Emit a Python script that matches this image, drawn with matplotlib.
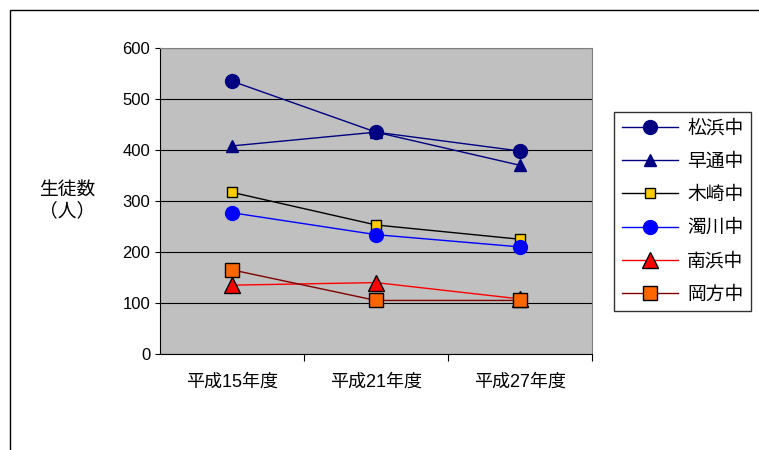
import matplotlib
matplotlib.use("Agg")
import matplotlib.pyplot as plt
import numpy as np

plt.rcParams['font.family'] = ['Liberation Sans', 'Noto Sans CJK JP', 'DejaVu Sans']

categories = ["平成15年度", "平成21年度", "平成27年度"]
schools = ["松浜中", "早通中", "木崎中", "濁川中", "南浜中", "岡方中"]
matsuhama = [535, 435, 398]
hayadori = [408, 435, 370]
kizaki = [317, 253, 225]
nigorikawa = [277, 234, 210]
minamihama = [135, 140, 108]
okagata = [165, 105, 105]
values = [matsuhama, hayadori, kizaki, nigorikawa, minamihama, okagata]

styles = [
    dict(color="#000080", marker="o", mfc="#000080", mec="#000080", ms=10),
    dict(color="#000080", marker="^", mfc="#000080", mec="#000080", ms=8),
    dict(color="#000000", marker="s", mfc="#FFCC00", mec="#000000", ms=7),
    dict(color="#0000FF", marker="o", mfc="#0000FF", mec="#0000FF", ms=10),
    dict(color="#FF0000", marker="^", mfc="#FF0000", mec="#000000", ms=11),
    dict(color="#800000", marker="s", mfc="#FF6600", mec="#000000", ms=10),
]

fig = plt.figure(figsize=(7.59, 4.5), dpi=100)
fig.patches.append(plt.Rectangle((10/759, -0.1), 1.2, 1 - 10/450 + 0.1, transform=fig.transFigure,
                                 fill=False, edgecolor="black", linewidth=1))
ax = fig.add_axes([160/759, 1 - 354/450, 432/759, 306/450])
ax.set_facecolor("#C0C0C0")
x = np.arange(len(categories))
for name, v, st in zip(schools, values, styles):
    ax.plot(x, v, label=name, linewidth=1, **st)

ax.set_xlim(-0.5, 2.5)
ax.set_ylim(0, 600)
ax.set_yticks(range(0, 601, 100))
ax.yaxis.grid(True, color="black", linewidth=0.8)
ax.set_axisbelow(True)
ax.set_xticks([0.5, 1.5, 2.5])
ax.set_xticklabels([])
ax.set_xticks(x, minor=True)
ax.set_xticklabels(categories, minor=True, fontsize=13)
ax.tick_params(axis="x", which="minor", length=0, pad=14)
ax.tick_params(axis="x", which="major", length=5, direction="out")
ax.tick_params(axis="y", labelsize=12)
for s in ["top", "right"]:
    ax.spines[s].set_color("#808080")
ax.text(-0.215, 0.5, "生徒数\n（人）", transform=ax.transAxes, ha="center", va="center", fontsize=13.5)

leg = fig.legend(loc="upper left", bbox_to_anchor=(614/759, 1 - 112/450), fontsize=13.5,
                 frameon=True, fancybox=False, edgecolor="black", handlelength=3,
                 borderpad=0.4, labelspacing=0.85, handletextpad=0.5, borderaxespad=0)
leg.get_frame().set_linewidth(1)

fig.savefig("out.png", dpi=100)
